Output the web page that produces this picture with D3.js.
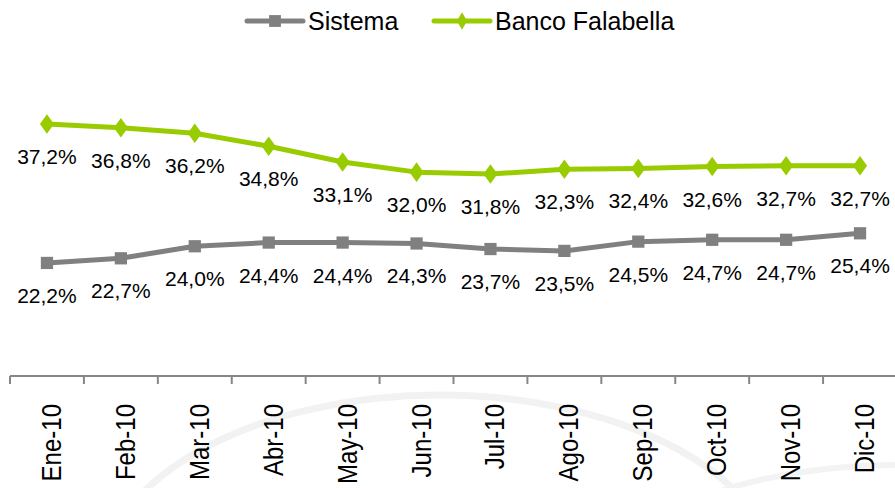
<!DOCTYPE html>
<html>
<head>
<meta charset="utf-8">
<script src="https://cdn.jsdelivr.net/npm/d3@7"></script>
<style>
    body { margin: 0; background: #fff; }
    svg { display: block; font-family: "Liberation Sans", Arial, sans-serif; }
</style>
</head>
<body>
<svg id="chart"></svg>
<script>
const months = ["Ene-10", "Feb-10", "Mar-10", "Abr-10", "May-10", "Jun-10",
                "Jul-10", "Ago-10", "Sep-10", "Oct-10", "Nov-10", "Dic-10"];
const sistema = [22.2, 22.7, 24.0, 24.4, 24.4, 24.3, 23.7, 23.5, 24.5, 24.7, 24.7, 25.4];
const falabella = [37.2, 36.8, 36.2, 34.8, 33.1, 32.0, 31.8, 32.3, 32.4, 32.6, 32.7, 32.7];
const seriesNames = ["Sistema", "Banco Falabella"];

const width = 895, height = 488;
const gray = "#808080", green = "#99cc00";

const svg = d3.select("#chart")
    .attr("width", width)
    .attr("height", height);

// faint watermark arcs behind the axis labels
svg.append("ellipse")
    .attr("cx", 440).attr("cy", 585)
    .attr("rx", 340).attr("ry", 190)
    .attr("fill", "none").attr("stroke", "#f2f2f2").attr("stroke-width", 7);
svg.append("ellipse")
    .attr("cx", 900).attr("cy", 560)
    .attr("rx", 260).attr("ry", 95)
    .attr("fill", "none").attr("stroke", "#f3f3f3").attr("stroke-width", 6);

const x = d3.scaleBand()
    .domain(months)
    .range([10, 897])
    .padding(0);

const y = d3.scaleLinear()
    .domain([10, 40])
    .range([376, 98]);

const cx = d => x(d) + x.bandwidth() / 2;

// x axis: line plus ticks between categories
svg.append("line")
    .attr("x1", 10).attr("x2", width)
    .attr("y1", 376).attr("y2", 376)
    .attr("stroke", "#868686").attr("stroke-width", 2);

svg.selectAll(".tick-mark")
    .data(months)
    .enter().append("line")
    .attr("class", "tick-mark")
    .attr("x1", d => x(d)).attr("x2", d => x(d))
    .attr("y1", 376).attr("y2", 384)
    .attr("stroke", "#868686").attr("stroke-width", 2);

svg.selectAll(".month")
    .data(months)
    .enter().append("text")
    .attr("class", "month")
    .attr("transform", d => `translate(${cx(d) + 14},404) rotate(-90) scale(1,1.15)`)
    .attr("text-anchor", "end")
    .attr("font-size", "24px")
    .attr("fill", "#000")
    .text(d => d);

const fmt = v => d3.format(".1f")(v).replace(".", ",") + "%";

function drawSeries(values, color, marker) {
    const pts = months.map((m, i) => ({ m, v: values[i] }));

    svg.append("path")
        .datum(pts)
        .attr("fill", "none")
        .attr("stroke", color)
        .attr("stroke-width", 5)
        .attr("stroke-linejoin", "round")
        .attr("d", d3.line().x(d => cx(d.m)).y(d => y(d.v)));

    const sym = d3.symbol().type(marker).size(marker === d3.symbolSquare ? 150 : 110);
    svg.selectAll(null)
        .data(pts)
        .enter().append("path")
        .attr("transform", d => `translate(${cx(d.m)},${y(d.v)})` + (marker === d3.symbolSquare ? "" : " scale(1.25,1)"))
        .attr("d", sym)
        .attr("fill", color);

    svg.selectAll(null)
        .data(pts)
        .enter().append("text")
        .attr("x", d => cx(d.m))
        .attr("y", d => y(d.v) + 40)
        .attr("text-anchor", "middle")
        .attr("font-size", "21px")
        .attr("fill", "#000")
        .text(d => fmt(d.v));
}

drawSeries(sistema, gray, d3.symbolSquare);
drawSeries(falabella, green, d3.symbolDiamond);

// legend
const legend = [
    { name: seriesNames[0], color: gray, marker: d3.symbolSquare, x: 247 },
    { name: seriesNames[1], color: green, marker: d3.symbolDiamond, x: 434 }
];
const lg = svg.selectAll(".legend")
    .data(legend)
    .enter().append("g")
    .attr("class", "legend")
    .attr("transform", d => `translate(${d.x},21)`);

lg.append("line")
    .attr("x1", 0).attr("x2", 56)
    .attr("stroke", d => d.color)
    .attr("stroke-width", 5)
    .attr("stroke-linecap", "round");

lg.append("path")
    .attr("transform", "translate(28,0)")
    .attr("d", d => d3.symbol().type(d.marker).size(d.marker === d3.symbolSquare ? 140 : 90)())
    .attr("fill", d => d.color);

lg.append("text")
    .attr("x", 61)
    .attr("y", 9)
    .attr("font-size", "25px")
    .attr("fill", "#000")
    .text(d => d.name);
</script>
</body>
</html>
